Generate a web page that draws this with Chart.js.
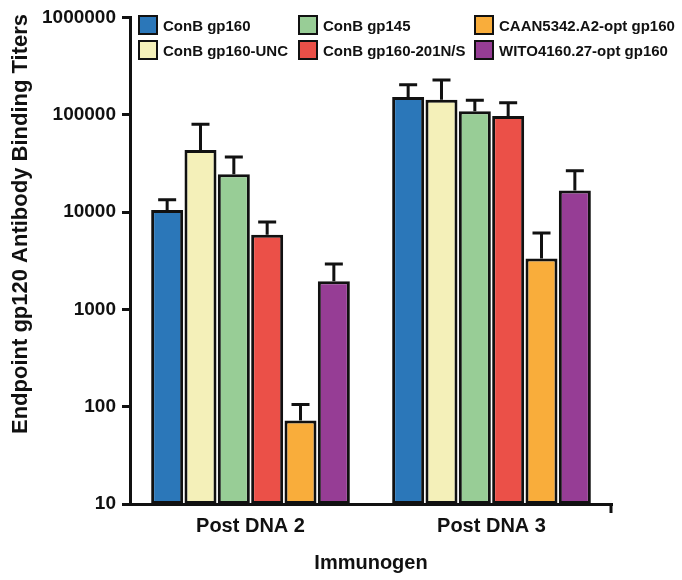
<!DOCTYPE html>
<html lang="en">
<head>
  <meta charset="UTF-8" />
  <title>Endpoint gp120 Antibody Binding Titers</title>
  <script src="https://cdn.jsdelivr.net/npm/chart.js"></script>
  <style>
    body {
      margin: 0;
      background: #fff;
      font-family: "Liberation Sans", Arial, sans-serif;
    }

    .wrap {
      position: relative;
      width: 682px;
      height: 580px;
    }

    .legend {
      position: absolute;
      left: 0;
      top: 0;
      width: 682px;
      height: 60px;
    }

    .legend .item {
      position: absolute;
      display: flex;
      align-items: center;
      font-weight: bold;
      font-size: 15px;
      color: #111;
      white-space: nowrap;
    }

    .legend .box {
      width: 16px;
      height: 16px;
      border: 2px solid #111;
      margin-right: 5px;
    }
  </style>
</head>
<body>
  <div class="wrap">
    <canvas id="titers" width="682" height="580"></canvas>
    <div class="legend" id="legend"></div>
  </div>

  <script>
    const labels = ['Post DNA 2', 'Post DNA 3'];

    const seriesNames = [
      'ConB gp160',
      'ConB gp160-UNC',
      'ConB gp145',
      'ConB gp160-201N/S',
      'CAAN5342.A2-opt gp160',
      'WITO4160.27-opt gp160'
    ];
    const seriesColors = ['#2b77b9', '#f4f0b9', '#98cd96', '#eb5048', '#f9ad3b', '#963d95'];

    // mean titers
    const conbGp160     = [10500, 152000];
    const conbGp160Unc  = [43400, 142600];
    const conbGp145     = [24400, 108700];
    const conbGp160NS   = [5860, 97200];
    const caan5342      = [72, 3340];
    const wito4160      = [1950, 16600];

    // top of each error bar
    const conbGp160Err    = [13370, 203000];
    const conbGp160UncErr = [80000, 228000];
    const conbGp145Err    = [36800, 140700];
    const conbGp160NSErr  = [7890, 133000];
    const caan5342Err     = [105, 6080];
    const wito4160Err     = [2930, 26600];

    const yTicks = [10, 100, 1000, 10000, 100000, 1000000];

    const values = [conbGp160, conbGp160Unc, conbGp145, conbGp160NS, caan5342, wito4160];
    const errors = [conbGp160Err, conbGp160UncErr, conbGp145Err, conbGp160NSErr, caan5342Err, wito4160Err];

    // legend boxes, 3 columns x 2 rows (column order goes down first)
    const legendCols = [138, 298, 474];
    const legendRows = [15, 40];
    const legend = document.getElementById('legend');
    seriesNames.forEach((name, i) => {
      const el = document.createElement('div');
      el.className = 'item';
      el.style.left = legendCols[Math.floor(i / 2)] + 'px';
      el.style.top = legendRows[i % 2] + 'px';
      el.innerHTML = `<span class="box" style="background:${seriesColors[i]}"></span>${name}`;
      legend.appendChild(el);
    });

    const errorBars = {
      id: 'errorBars',
      afterDatasetsDraw(chart) {
        const ctx = chart.ctx;
        const y = chart.scales.y;
        ctx.save();
        ctx.strokeStyle = '#111';
        ctx.lineWidth = 3;
        chart.data.datasets.forEach((ds, di) => {
          chart.getDatasetMeta(di).data.forEach((bar, i) => {
            const top = y.getPixelForValue(ds.errTop[i]);
            ctx.beginPath();
            ctx.moveTo(bar.x, bar.y);
            ctx.lineTo(bar.x, top);
            ctx.moveTo(bar.x - 9, top);
            ctx.lineTo(bar.x + 9, top);
            ctx.stroke();
          });
        });
        ctx.restore();
      }
    };

    const extras = {
      id: 'extras',
      afterDraw(chart) {
        const ctx = chart.ctx;
        const a = chart.chartArea;
        ctx.save();
        // end tick of the x axis
        ctx.strokeStyle = '#111';
        ctx.lineWidth = 3;
        ctx.beginPath();
        ctx.moveTo(a.right - 1, a.bottom);
        ctx.lineTo(a.right - 1, a.bottom + 9);
        ctx.stroke();
        // y axis title
        ctx.translate(21, 224);
        ctx.rotate(-Math.PI / 2);
        ctx.fillStyle = '#111';
        ctx.font = 'bold 22px "Liberation Sans", Arial, sans-serif';
        ctx.textAlign = 'center';
        ctx.textBaseline = 'middle';
        ctx.fillText('Endpoint gp120 Antibody Binding Titers', 0, 0);
        ctx.restore();
      }
    };

    new Chart(document.getElementById('titers'), {
      type: 'bar',
      data: {
        labels,
        datasets: seriesNames.map((name, i) => ({
          label: name,
          data: values[i],
          errTop: errors[i],
          backgroundColor: seriesColors[i],
          borderColor: '#111',
          borderWidth: 3,
          borderSkipped: false,
          categoryPercentage: 0.83,
          barPercentage: 0.96
        }))
      },
      options: {
        responsive: false,
        animation: false,
        layout: { padding: { left: 0, right: 70, top: 15, bottom: 0 } },
        plugins: {
          legend: { display: false },
          tooltip: { enabled: false }
        },
        scales: {
          x: {
            grid: { display: false, drawTicks: false },
            border: { color: '#111', width: 3 },
            ticks: {
              color: '#111',
              padding: 10,
              font: { family: '"Liberation Sans", Arial, sans-serif', size: 20, weight: 'bold' }
            },
            title: {
              display: true,
              text: 'Immunogen',
              color: '#111',
              padding: { top: 0, bottom: 5 },
              font: { family: '"Liberation Sans", Arial, sans-serif', size: 20, weight: 'bold' }
            },
            afterFit(scale) { scale.height = 76; }
          },
          y: {
            type: 'logarithmic',
            min: 10,
            max: 1000000,
            grid: {
              drawOnChartArea: false,
              drawTicks: true,
              tickLength: 8,
              color: '#111',
              lineWidth: 3
            },
            border: { color: '#111', width: 3 },
            ticks: {
              color: '#111',
              padding: 6,
              font: { family: '"Liberation Sans", Arial, sans-serif', size: 19, weight: 'bold' },
              callback: v => String(v)
            },
            afterBuildTicks(scale) {
              scale.ticks = yTicks.map(v => ({ value: v }));
            },
            afterFit(scale) { scale.width = 130; }
          }
        }
      },
      plugins: [errorBars, extras]
    });
  </script>
</body>
</html>
